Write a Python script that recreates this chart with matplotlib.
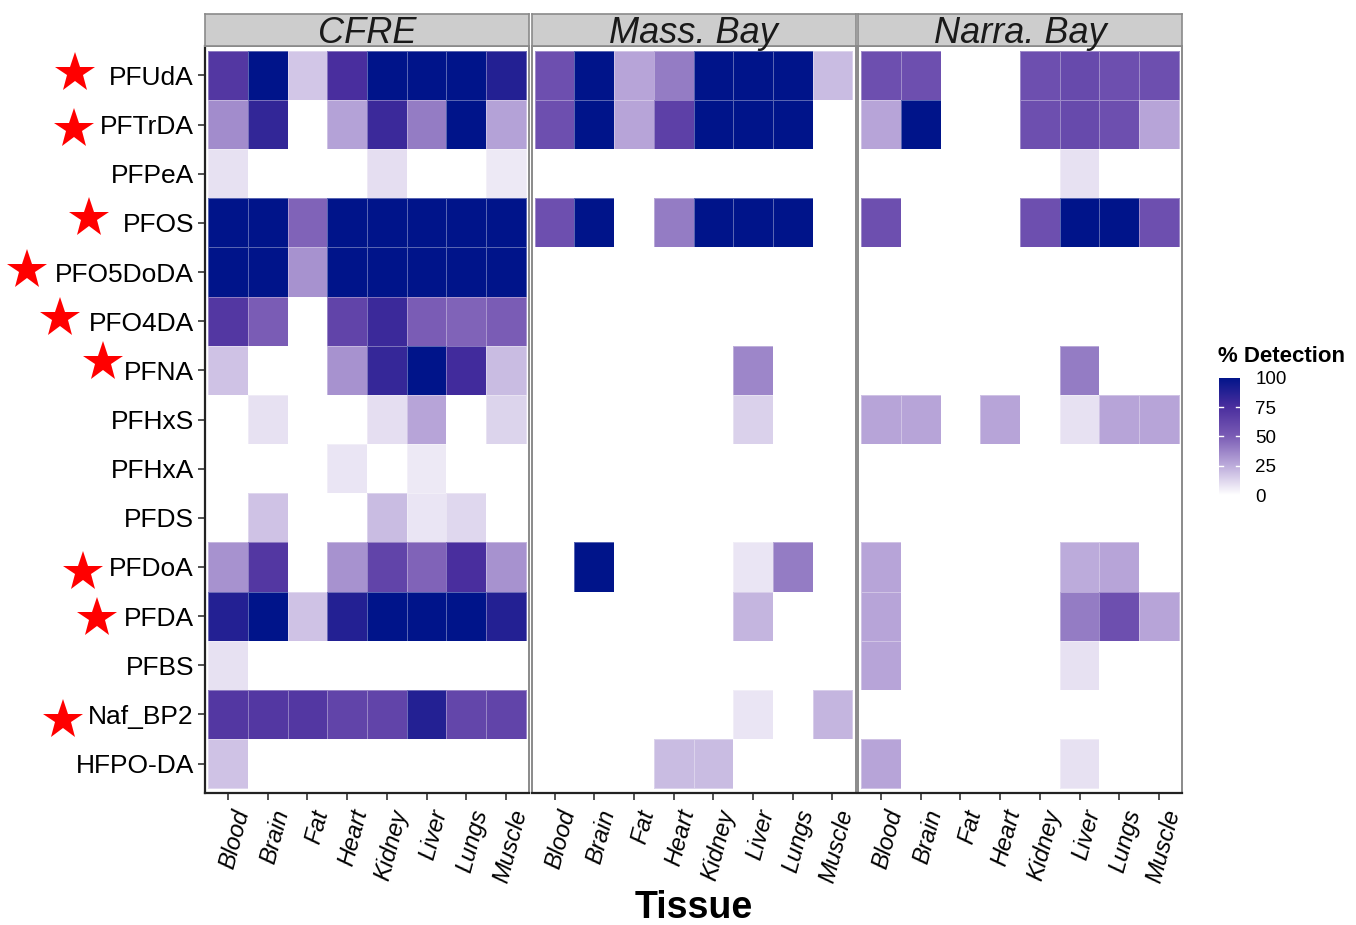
import numpy as np
import matplotlib
matplotlib.use("Agg")
import matplotlib.pyplot as plt
import matplotlib.transforms as mtransforms
from matplotlib.colors import LinearSegmentedColormap
from matplotlib.lines import Line2D

plt.rcParams['font.family'] = ['Liberation Sans', 'DejaVu Sans']

compounds = ["PFUdA", "PFTrDA", "PFPeA", "PFOS", "PFO5DoDA", "PFO4DA", "PFNA",
             "PFHxS", "PFHxA", "PFDS", "PFDoA", "PFDA", "PFBS", "Naf_BP2", "HFPO-DA"]
tissues = ["Blood", "Brain", "Fat", "Heart", "Kidney", "Liver", "Lungs", "Muscle"]
sites = ["CFRE", "Mass. Bay", "Narra. Bay"]
starred = ["PFUdA", "PFTrDA", "PFOS", "PFO5DoDA", "PFO4DA", "PFNA", "PFDoA", "PFDA", "Naf_BP2"]

# % detection, rows = compounds, cols = tissues
cfre = [
    [70, 100, 17, 75, 100, 100, 100, 88],
    [35, 83, 0, 28, 80, 40, 100, 28],
    [9, 0, 0, 0, 10, 0, 0, 7],
    [100, 100, 48, 100, 100, 100, 100, 100],
    [100, 100, 33, 100, 100, 100, 100, 100],
    [70, 50, 0, 63, 80, 50, 48, 50],
    [18, 0, 0, 33, 82, 100, 78, 20],
    [0, 9, 0, 0, 10, 27, 0, 13],
    [0, 0, 0, 8, 0, 7, 0, 0],
    [0, 18, 0, 0, 20, 8, 12, 0],
    [33, 70, 0, 33, 63, 48, 75, 33],
    [88, 100, 18, 88, 100, 100, 100, 88],
    [9, 0, 0, 0, 0, 0, 0, 0],
    [70, 70, 70, 63, 63, 88, 62, 63],
    [18, 0, 0, 0, 0, 0, 0, 0],
]
mass_bay = [
    [57, 100, 27, 40, 100, 100, 100, 20],
    [57, 100, 27, 65, 100, 100, 100, 0],
    [0, 0, 0, 0, 0, 0, 0, 0],
    [57, 100, 0, 40, 100, 100, 100, 0],
    [0, 0, 0, 0, 0, 0, 0, 0],
    [0, 0, 0, 0, 0, 0, 0, 0],
    [0, 0, 0, 0, 0, 37, 0, 0],
    [0, 0, 0, 0, 0, 14, 0, 0],
    [0, 0, 0, 0, 0, 0, 0, 0],
    [0, 0, 0, 0, 0, 0, 0, 0],
    [0, 100, 0, 0, 0, 8, 40, 0],
    [0, 0, 0, 0, 0, 22, 0, 0],
    [0, 0, 0, 0, 0, 0, 0, 0],
    [0, 0, 0, 0, 0, 8, 0, 22],
    [0, 0, 0, 20, 20, 0, 0, 0],
]
narra_bay = [
    [57, 57, 0, 0, 57, 60, 57, 57],
    [27, 100, 0, 0, 57, 60, 57, 27],
    [0, 0, 0, 0, 0, 9, 0, 0],
    [57, 0, 0, 0, 57, 100, 100, 57],
    [0, 0, 0, 0, 0, 0, 0, 0],
    [0, 0, 0, 0, 0, 0, 0, 0],
    [0, 0, 0, 0, 0, 40, 0, 0],
    [27, 27, 0, 27, 0, 9, 27, 27],
    [0, 0, 0, 0, 0, 0, 0, 0],
    [0, 0, 0, 0, 0, 0, 0, 0],
    [27, 0, 0, 0, 0, 25, 27, 0],
    [27, 0, 0, 0, 0, 40, 57, 27],
    [27, 0, 0, 0, 0, 9, 0, 0],
    [0, 0, 0, 0, 0, 0, 0, 0],
    [27, 0, 0, 0, 0, 9, 0, 0],
]
site_data = [cfre, mass_bay, narra_bay]

cmap = LinearSegmentedColormap.from_list(
    "det", [(0.0, "#FFFFFF"), (0.25, "#BCABDB"), (0.5, "#7A5CB5"),
            (0.75, "#4A2E9E"), (1.0, "#00148A")])

W, H = 1356, 925
fig = plt.figure(figsize=(W / 100, H / 100), dpi=100)

def fx(px):
    return px / W

def fy(py):
    return 1 - py / H

panel_left = [205, 531.5, 858]
panel_w = 324
top, bot = 46, 793
strip_top = 14

axes = []
for i, (site, data) in enumerate(zip(sites, site_data)):
    ax = fig.add_axes([fx(panel_left[i]), fy(bot), panel_w / W, (bot - top) / H])
    arr = np.array(data, dtype=float)
    ax.pcolormesh(np.arange(len(tissues) + 1) - 0.5, np.arange(len(compounds) + 1) - 0.5,
                  arr, cmap=cmap, vmin=0, vmax=100, edgecolors=(1, 1, 1, 0.35),
                  linewidth=0.6)
    ax.set_xlim(-0.58, len(tissues) - 0.42)
    ax.set_ylim(len(compounds) - 0.4, -0.6)
    ax.set_xticks(range(len(tissues)))
    ax.set_xticklabels(tissues, rotation=75, ha='right', va='top',
                       rotation_mode='anchor', fontsize=17, style='italic')
    ax.tick_params(axis='x', length=5, width=1.2, color='#333333', pad=5)
    if i == 0:
        ax.set_yticks(range(len(compounds)))
        ax.set_yticklabels(compounds, fontsize=19)
        ax.tick_params(axis='y', length=5, width=1.2, color='#333333', pad=3)
    else:
        ax.set_yticks([])
    for s in ['top', 'right', 'left']:
        ax.spines[s].set_color('#8A8A8A')
        ax.spines[s].set_linewidth(1.4)
    ax.spines['bottom'].set_color('#222222')
    ax.spines['bottom'].set_linewidth(1.6)
    if i == 0:
        ax.spines['left'].set_color('#222222')
        ax.spines['left'].set_linewidth(1.6)
    axes.append(ax)

    sax = fig.add_axes([fx(panel_left[i]), fy(top), panel_w / W, (top - strip_top) / H])
    sax.set_facecolor('#CDCDCD')
    sax.set_xticks([]); sax.set_yticks([])
    for s in sax.spines.values():
        s.set_color('#8A8A8A'); s.set_linewidth(1.2)
    sax.text(0.5, 0.38, site, transform=sax.transAxes, ha='center', va='center',
             fontsize=26, style='italic', color='#1A1A1A')

# shift x tick labels slightly so their ends sit near the ticks
for ax in axes:
    off = mtransforms.ScaledTranslation(3 / 100, 0, fig.dpi_scale_trans)
    for lab in ax.get_xticklabels():
        lab.set_transform(lab.get_transform() + off)

fig.text(fx(694), fy(908), "Tissue", ha='center', va='center', fontsize=27, fontweight='bold')

# colorbar
cax = fig.add_axes([fx(1219), fy(495), 21 / W, 117 / H])
grad = np.linspace(0, 100, 256).reshape(-1, 1)
cax.imshow(grad, aspect='auto', cmap=cmap, vmin=0, vmax=100, origin='lower',
           extent=[0, 1, 0, 100])
for v in [25, 50, 75]:
    cax.plot([0, 0.2], [v, v], color='white', lw=1)
    cax.plot([0.8, 1], [v, v], color='white', lw=1)
cax.set_xlim(0, 1); cax.set_ylim(0, 100)
cax.set_xticks([])
cax.yaxis.tick_right()
cax.set_yticks([0, 25, 50, 75, 100])
cax.set_yticklabels(["0", "25", "50", "75", "100"], fontsize=13.5)
cax.tick_params(axis='y', length=0, pad=11)
for s in cax.spines.values():
    s.set_visible(False)
fig.text(fx(1218), fy(357), "% Detection", ha='left', va='center', fontsize=16, fontweight='bold')

# red stars next to selected compound labels (layout positions in pixels)
star_px = {"PFUdA": (75, 73), "PFTrDA": (74, 129), "PFOS": (89, 218), "PFO5DoDA": (27, 270),
           "PFO4DA": (60, 318), "PFNA": (103, 362), "PFDoA": (83, 572), "PFDA": (97, 618),
           "Naf_BP2": (63, 720)}
for name in starred:
    x, y = star_px[name]
    fig.add_artist(Line2D([fx(x)], [fy(y)], marker='*', markersize=30, color='#FF0000',
                          markeredgewidth=0, transform=fig.transFigure))

fig.savefig("out.png", dpi=100)
